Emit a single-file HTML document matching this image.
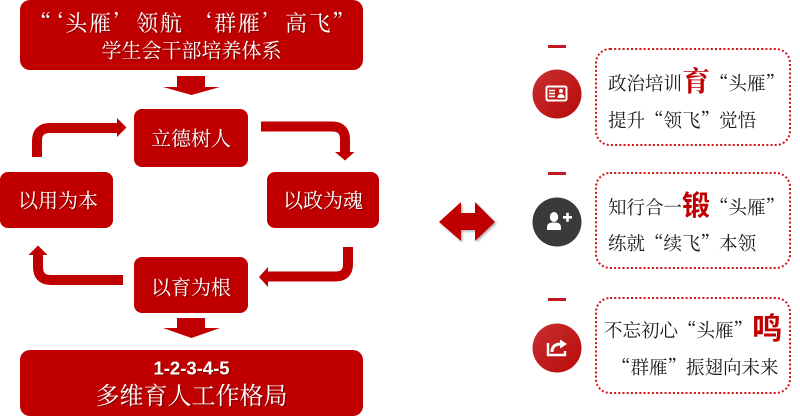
<!DOCTYPE html>
<html>
<head>
<meta charset="utf-8">
<style>
  html,body{margin:0;padding:0;background:#fff;}
  body{width:800px;height:416px;overflow:hidden;position:relative;}
  svg{position:absolute;left:0;top:0;}
  .w{fill:#fff;font-family:"Liberation Serif","Noto Serif CJK SC",serif;}
  .k{fill:#1a1a1a;font-family:"Liberation Serif","Noto Serif CJK SC",serif;font-size:18.5px;}
  .q{font-family:"Noto Serif CJK SC",serif;}
</style>
</head>
<body>
<svg width="800" height="416" viewBox="0 0 800 416" xmlns="http://www.w3.org/2000/svg">
  <defs>
    <filter id="ts" x="-10%" y="-10%" width="120%" height="130%">
      <feDropShadow dx="1" dy="1" stdDeviation="0.6" flood-color="#000" flood-opacity="0.4"/>
    </filter>
    <filter id="bs" x="-10%" y="-10%" width="130%" height="130%">
      <feDropShadow dx="1.5" dy="1.5" stdDeviation="1" flood-color="#000" flood-opacity="0.3"/>
    </filter>
    <linearGradient id="rg" x1="0" y1="0" x2="1" y2="1">
      <stop offset="0" stop-color="#c8302f"/>
      <stop offset="1" stop-color="#b80a0a"/>
    </linearGradient>
  </defs>

  <!-- Top box -->
  <rect x="20" y="0" width="343" height="70" rx="10" fill="#C00000"/>
  <text class="w" filter="url(#ts)" x="192.5" y="31" text-anchor="middle" font-size="22" letter-spacing="1.6"><tspan class="q">“‘</tspan>头雁<tspan class="q">’</tspan>领航 <tspan class="q">‘</tspan>群雁<tspan class="q">’</tspan>高飞<tspan class="q">”</tspan></text>
  <text class="w" filter="url(#ts)" x="191.5" y="57.5" text-anchor="middle" font-size="20">学生会干部培养体系</text>

  <!-- Down arrow 1 -->
  <polygon points="177,76 205,76 205,87 220,87 191.5,95 163,87 177,87" fill="#C00000"/>

  <!-- Middle boxes -->
  <rect x="134" y="109" width="114" height="58" rx="8" fill="#C00000"/>
  <text class="w" filter="url(#ts)" x="191" y="145.5" text-anchor="middle" font-size="20">立德树人</text>

  <rect x="0" y="172" width="113" height="56" rx="8" fill="#C00000"/>
  <text class="w" filter="url(#ts)" x="58" y="207.5" text-anchor="middle" font-size="20">以用为本</text>

  <rect x="267" y="172" width="112" height="56" rx="8" fill="#C00000"/>
  <text class="w" filter="url(#ts)" x="323" y="207.5" text-anchor="middle" font-size="20">以政为魂</text>

  <rect x="134" y="257" width="114" height="56" rx="8" fill="#C00000"/>
  <text class="w" filter="url(#ts)" x="191" y="294.5" text-anchor="middle" font-size="20">以育为根</text>

  <!-- Curved arrows -->
  <g fill="none" stroke="#C00000" stroke-width="10">
    <path d="M37,157 V141 Q37,128 50,128 H118"/>
    <path d="M261,126.5 H332 Q345,126.5 345,139.5 V153"/>
    <path d="M348,247 V264 Q348,276.5 335.5,276.5 H267"/>
    <path d="M123,280 H51 Q38,280 38,267 V254"/>
  </g>
  <g fill="#C00000">
    <polygon points="117,118 126.5,127.5 117,137"/>
    <polygon points="335,152 354.5,152 345,160.5"/>
    <polygon points="268,267 259,277 268,287"/>
    <polygon points="28.5,255 47.5,255 38,245.5"/>
  </g>

  <!-- Down arrow 2 -->
  <polygon points="177,318 205,318 205,328 220,328 191.5,338 163,328 177,328" fill="#C00000"/>

  <!-- Bottom box -->
  <rect x="20" y="350" width="343" height="66" rx="10" fill="#C00000"/>
  <text filter="url(#ts)" x="191.5" y="374.5" text-anchor="middle" font-size="18.5" font-weight="bold" fill="#fff" font-family="Liberation Sans, sans-serif">1-2-3-4-5</text>
  <text class="w" filter="url(#ts)" x="191.5" y="404" text-anchor="middle" font-size="24">多维育人工作格局</text>

  <!-- Double arrow -->
  <polygon filter="url(#bs)" points="439,222 461,202 461,213 475,213 475,202 495,222 475,241 475,230 461,230 461,241" fill="#C00000"/>

  <!-- Dashes -->
  <rect x="548" y="45" width="18" height="3" fill="#c21a22"/>
  <rect x="548" y="172" width="18" height="3" fill="#c21a22"/>
  <rect x="548" y="298" width="18" height="3" fill="#c21a22"/>

  <!-- Circles -->
  <circle cx="557" cy="94" r="24.5" fill="url(#rg)"/>
  <circle cx="557" cy="222" r="24.5" fill="#3a3a3a"/>
  <circle cx="557" cy="348" r="24.5" fill="url(#rg)"/>

  <!-- ID icon -->
  <rect x="546.5" y="86.5" width="20" height="14" rx="1.5" fill="none" stroke="#fff" stroke-width="2"/>
  <g stroke="#fff" stroke-width="1.6">
    <line x1="549" y1="90.5" x2="555" y2="90.5"/>
    <line x1="549" y1="93.5" x2="555" y2="93.5"/>
    <line x1="549" y1="96.5" x2="555" y2="96.5"/>
  </g>
  <circle cx="561" cy="91" r="2" fill="#fff"/>
  <path d="M557.5,98 Q557.5,94 561,94 Q564.5,94 564.5,98 Z" fill="#fff"/>

  <!-- Person plus icon -->
  <ellipse cx="554" cy="217" rx="4.2" ry="5" fill="#fff"/>
  <path d="M547,230 V227 Q547,223 552,222.5 L556,222.5 Q561,223 561,227 V230 Z" fill="#fff"/>
  <rect x="563" y="216" width="9" height="2.6" fill="#fff"/>
  <rect x="566.2" y="212.8" width="2.6" height="9" fill="#fff"/>

  <!-- Share icon -->
  <path d="M548,343 V355 H565 V351" fill="none" stroke="#fff" stroke-width="2.4"/>
  <path d="M552,352 Q552,344 561,344" fill="none" stroke="#fff" stroke-width="3"/>
  <polygon points="560,339.5 567,344 560,348.5" fill="#fff"/>

  <!-- Dotted boxes -->
  <g fill="none" stroke="#d01418" stroke-width="2" stroke-dasharray="2,2.2">
    <rect x="596" y="49" width="194" height="96" rx="14"/>
    <rect x="596" y="173" width="194" height="95" rx="14"/>
    <rect x="596" y="298" width="194" height="95" rx="14"/>
  </g>

  <!-- Box texts -->
  <text class="k" x="608" y="90">政治培训<tspan font-size="28" fill="#c00000" font-weight="bold" dy="1">育</tspan><tspan class="q" dy="-1">“</tspan>头雁<tspan class="q">”</tspan></text>
  <text class="k" x="608" y="127">提升<tspan class="q">“</tspan>领飞<tspan class="q">”</tspan>觉悟</text>

  <text class="k" x="608" y="214">知行合一<tspan font-size="28" fill="#c00000" font-weight="bold" font-family="Liberation Sans, Noto Sans CJK SC, sans-serif" dy="1">锻</tspan><tspan class="q" dy="-1">“</tspan>头雁<tspan class="q">”</tspan></text>
  <text class="k" x="608" y="250">练就<tspan class="q">“</tspan>续飞<tspan class="q">”</tspan>本领</text>

  <text class="k" x="604" y="337">不忘初心<tspan class="q">“</tspan>头雁<tspan class="q">”</tspan><tspan font-size="30" fill="#c00000" font-weight="bold" font-family="Liberation Sans, Noto Sans CJK SC, sans-serif" dy="2">鸣</tspan></text>
  <text class="k" x="612" y="374"><tspan class="q">“</tspan>群雁<tspan class="q">”</tspan>振翅向未来</text>
</svg>
</body>
</html>
